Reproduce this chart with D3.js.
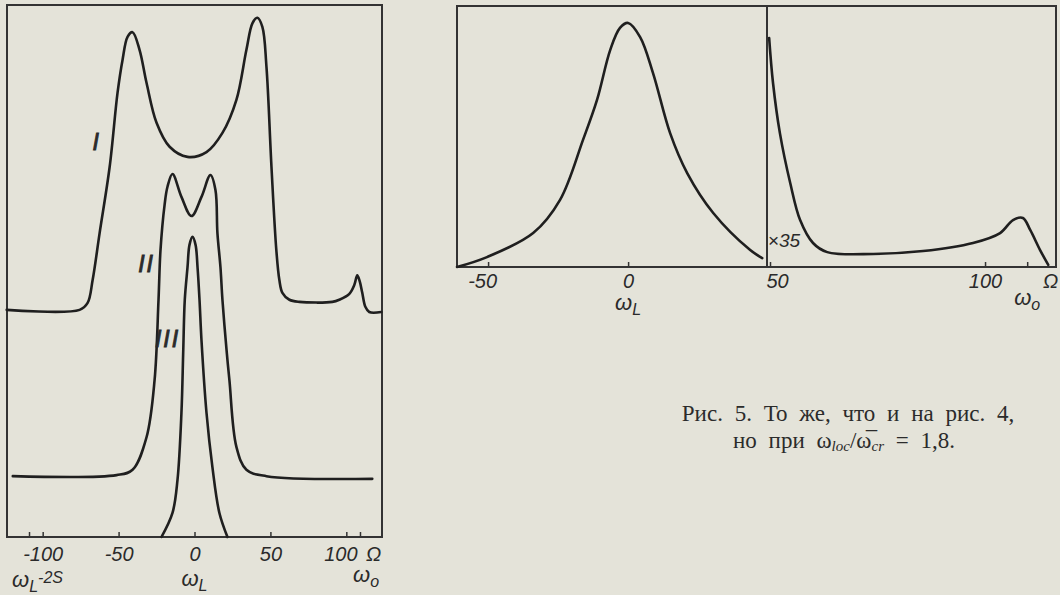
<!DOCTYPE html>
<html>
<head>
<meta charset="utf-8">
<script src="https://cdn.jsdelivr.net/npm/d3@7"></script>
<style>
  body { margin: 0; background: #e4e3d9; }
  svg { display: block; }
  .frame { fill: none; stroke: #333; stroke-width: 2; }
  .curve { fill: none; stroke: #1f1f1f; stroke-width: 2.6; stroke-linejoin: round; stroke-linecap: round; }
  .axis .domain { display: none; }
  .axis line { stroke: #333; stroke-width: 1.5; }
  .axis text, .lbl { font-family: "Liberation Sans", sans-serif; font-style: italic; fill: #2a2a2a; }
  .cap { font-family: "Liberation Serif", serif; fill: #2b2b2b; }
</style>
</head>
<body>
<svg width="1060" height="595"></svg>
<script>
// left figure: three spectra, x in frequency units, y in arbitrary intensity (0..100)
var curveI = [[-123.7,42.8],[-75.7,42.8],[-70.4,44.1],[-67.1,48.4],[-62.5,57.2],[-55.9,69.6],[-50.7,83.5],
  [-47.4,89.7],[-44.1,94.0],[-40.8,94.9],[-36.2,91.6],[-31.6,85.4],[-25.0,77.9],[-16.4,73.4],[-4.6,71.5],
  [7.9,72.4],[18.4,76.0],[27.6,82.2],[34.2,91.6],[38.2,96.6],[41.4,97.6],[44.7,95.9],[47.4,88.4],[50.7,69.6],
  [53.9,54.0],[55.9,48.4],[57.9,46.0],[62.5,44.7],[69.1,44.3],[90.8,44.3],[95.4,44.7],[102.0,45.8],
  [105.3,47.5],[107.2,49.3],[108.8,48.2],[110.5,46.0],[112.5,43.4],[115.1,42.4],[123.0,42.4]];
var curveII = [[-119.7,11.6],[-51.3,11.8],[-40.8,12.8],[-31.6,18.9],[-26.3,29.6],[-23.7,44.7],[-22.4,54.0],
  [-19.7,62.5],[-17.8,65.9],[-14.5,68.3],[-8.6,64.0],[-2.0,60.4],[4.6,64.0],[10.5,68.1],[13.8,65.3],
  [15.1,57.2],[17.1,50.8],[18.4,44.7],[21.1,35.3],[23.0,29.6],[27.6,17.1],[34.2,12.8],[47.4,11.6],[117.1,11.1]];
var curveIII = [[-21.7,0.2],[-14.5,4.7],[-11.2,10.9],[-8.6,23.5],[-7.4,35.3],[-6.4,44.7],[-4.6,50.8],
  [-3.3,55.0],[-1.3,56.5],[0.7,55.0],[2.0,50.8],[3.3,44.7],[4.6,37.1],[7.9,23.5],[11.8,13.3],[16.4,4.7],[21.7,0.2]];
var leftTicks = [-109, -100, -50, 0, 50, 100, 109];
var leftTickLabels = ["", "-100", "-50", "0", "50", "100", "Ω"];

// right figure (рис. 5): central line and the x35 wing
var centralLine = [[-61.1,0],[-50.4,3.8],[-33.9,13.0],[-24.3,25.7],[-16.1,48.7],[-11.1,64.0],[-6.4,83.1],
  [-2.9,91.6],[0,93.5],[4.3,88.1],[8.9,74.3],[15.0,51.3],[21.1,36.0],[30.4,20.7],[43.6,6.5],[47.9,3.4]];
var wingLine = [[49.8,87.7],[50.7,70.5],[52.3,51.3],[54.7,32.2],[57.0,18.0],[60.0,9.2],[63.3,5.7],[74.0,5.0],
  [85.6,6.1],[97.2,9.2],[103.5,13.0],[106.5,18.0],[108.8,18.8],[110.5,14.2],[112.8,6.5],[114.7,0.8]];
var centralTicks = [-50, 0];
var centralTickLabels = ["-50", "0"];
var wingTicks = [50, 100, 109.8];
var wingTickLabels = ["50", "100", "Ω"];

document.addEventListener("DOMContentLoaded", function() {
  var svg = d3.select("svg");

  var x1 = d3.scaleLinear().domain([-123.5, 123.5]).range([7, 382]),
      y1 = d3.scaleLinear().domain([0, 100]).range([538, 5]);
  var x2 = d3.scaleLinear().domain([-61.1, 49.6]).range([457, 767]),
      x3 = d3.scaleLinear().domain([49.3, 116.5]).range([767, 1056]),
      y2 = d3.scaleLinear().domain([0, 100]).range([267, 6]);

  var smooth = d3.curveCatmullRom.alpha(0.5);
  function line(x, y) {
    return d3.line().x(function(d) { return x(d[0]); }).y(function(d) { return y(d[1]); }).curve(smooth);
  }

  // frames
  svg.append("rect").attr("class", "frame")
    .attr("x", x1.range()[0]).attr("y", y1(100)).attr("width", x1.range()[1] - x1.range()[0]).attr("height", 537 - y1(100));
  svg.append("rect").attr("class", "frame")
    .attr("x", x2.range()[0]).attr("y", y2(100)).attr("width", x3.range()[1] - x2.range()[0]).attr("height", y2(0) - y2(100));
  svg.append("line").attr("class", "frame")
    .attr("x1", x3.range()[0]).attr("x2", x3.range()[0]).attr("y1", y2(100)).attr("y2", y2(0));

  // axes
  function axis(x, vals, labs, yPos, pad, dxs) {
    var g = svg.append("g").attr("class", "axis").attr("transform", "translate(0," + yPos + ")")
      .call(d3.axisBottom(x).tickValues(vals).tickSize(-5).tickPadding(pad)
        .tickFormat(function(d, i) { return labs[i]; }));
    g.selectAll("text").style("font-size", "20px").attr("dx", function(d, i) { return dxs[i]; });
  }
  axis(x1, leftTicks, leftTickLabels, 537, 10, [0, 0, 0, 0, 0, -6, 13]);
  axis(x2, centralTicks, centralTickLabels, 267, 7, [-6, 0]);
  axis(x3, wingTicks, wingTickLabels, 267, 7, [7, 0, 23]);

  // curves
  svg.append("path").datum(curveI).attr("class", "curve").attr("d", line(x1, y1));
  svg.append("path").datum(curveII).attr("class", "curve").attr("d", line(x1, y1));
  svg.append("path").datum(curveIII).attr("class", "curve").attr("d", line(x1, y1));
  svg.append("path").datum(centralLine).attr("class", "curve").attr("d", line(x2, y2));
  svg.append("path").datum(wingLine).attr("class", "curve").attr("d", line(x3, y2));

  // curve numbers
  [["I", -64.5, 72.8], ["II", -31.6, 49.9], ["III", -17.8, 35.8]].forEach(function(l) {
    svg.append("text").attr("class", "lbl").attr("x", x1(l[1])).attr("y", y1(l[2]))
      .attr("text-anchor", "middle").style("font-size", "23px")
      .style("stroke", "#2a2a2a").style("stroke-width", 0.9)
      .style("letter-spacing", "2px").text(l[0]);
  });

  // omega labels under the axes
  function omega(x, y, sub, sup, anchor) {
    var t = svg.append("text").attr("class", "lbl").attr("x", x).attr("y", y)
      .attr("text-anchor", anchor || "middle").style("font-size", "22px");
    t.append("tspan").text("ω");
    t.append("tspan").attr("dy", 5).style("font-size", "16px").text(sub);
    if (sup) t.append("tspan").attr("dy", -9).style("font-size", "16px").text(sup);
  }
  omega(12, 587, "L", "-2S", "start");
  omega(x1(0), 586, "L");
  omega(x1(113), 582, "o");
  omega(x2(0), 310, "L");
  omega(x3(109.8), 305, "o");

  svg.append("text").attr("class", "lbl").attr("x", x3(49.5)).attr("y", 247)
    .style("font-size", "19px").text("×35");

  // caption
  svg.append("text").attr("class", "cap").attr("x", 848).attr("y", 421).attr("text-anchor", "middle")
    .style("font-size", "23px").style("word-spacing", "6px")
    .text("Рис. 5. То же, что и на рис. 4,");
  var c2 = svg.append("text").attr("class", "cap").attr("x", 844).attr("y", 448)
    .attr("text-anchor", "middle").style("font-size", "23px").style("word-spacing", "6px");
  c2.append("tspan").text("но при  ω");
  c2.append("tspan").attr("dy", 3).style("font-size", "15px").style("font-style", "italic").text("loc");
  c2.append("tspan").attr("dy", -3).text("/ω\u0305");
  c2.append("tspan").attr("dy", 3).style("font-size", "15px").style("font-style", "italic").text("cr");
  c2.append("tspan").attr("dy", -3).text(" = 1,8.");
});
</script>
</body>
</html>
